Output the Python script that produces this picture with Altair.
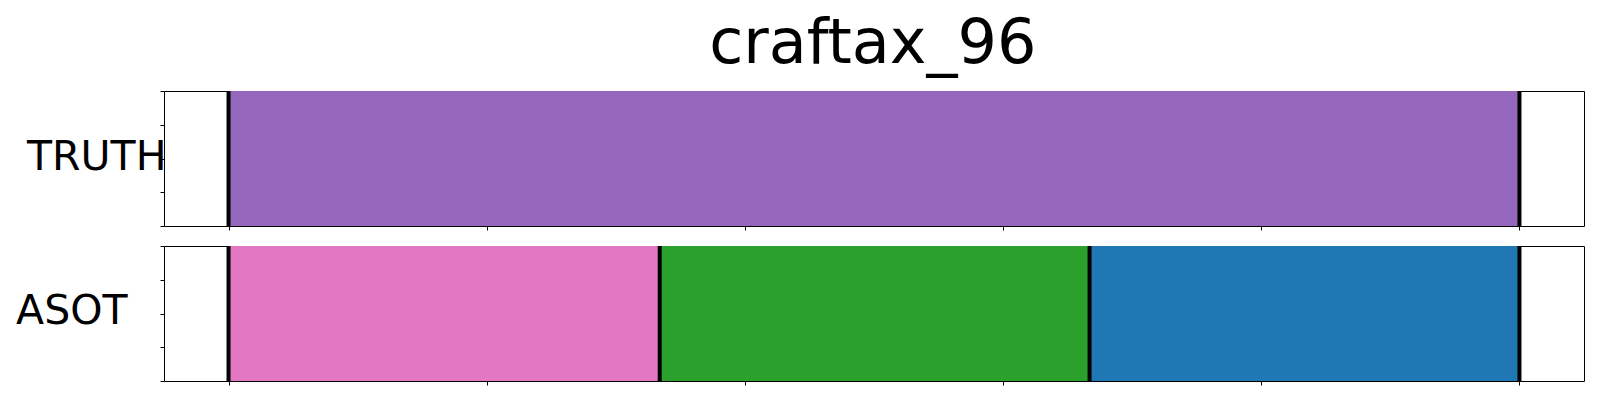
import altair as alt
import pandas as pd

title_text = "craftax_96"
row_names = ["TRUTH", "ASOT"]

truth_starts = [0]
truth_ends = [100]
truth_labels = ["t0"]

asot_starts = [0, 33.4, 66.7]
asot_ends = [33.4, 66.7, 100]
asot_labels = ["a0", "a1", "a2"]

truth_bounds = [0, 100]
asot_bounds = [0, 33.4, 66.7, 100]

color_domain = ["t0", "a0", "a1", "a2"]
color_range = ["#9467bd", "#e377c2", "#2ca02c", "#1f77b4"]

x_ticks = [0, 20, 40, 60, 80, 100]
y_ticks = [0, 0.25, 0.5, 0.75, 1]

W, H = 1420, 135


def panel(name, starts, ends, labels, bounds, title_x, title_y):
    seg = pd.DataFrame({"start": starts, "end": ends, "lab": labels,
                        "y0": [0] * len(starts), "y1": [1] * len(starts)})
    bnd = pd.DataFrame({"b": bounds})
    xs = alt.Scale(domain=[-5, 105], nice=False, zero=False)
    ys = alt.Scale(domain=[0, 1], nice=False)
    rect = alt.Chart(seg).mark_rect().encode(
        x=alt.X("start:Q", scale=xs,
                axis=alt.Axis(values=x_ticks, labels=False, title=None, domain=False,
                              ticks=True, tickSize=4, tickColor="black", grid=False)),
        x2="end:Q",
        y=alt.Y("y0:Q", scale=ys,
                axis=alt.Axis(values=y_ticks, labels=False, domain=False, ticks=True,
                              tickSize=4, tickColor="black", grid=False,
                              title=name, titleAngle=0, titleAlign="right",
                              titleBaseline="alphabetic", titleX=title_x, titleY=title_y,
                              titleFontSize=41, titleFont="DejaVu Sans",
                              titleFontWeight="normal", titleColor="black")),
        y2="y1:Q",
        color=alt.Color("lab:N", scale=alt.Scale(domain=color_domain, range=color_range),
                        legend=None),
    )
    rule = alt.Chart(bnd).mark_rule(color="black", strokeWidth=4).encode(
        x=alt.X("b:Q", scale=xs)
    )
    return alt.layer(rect, rule).properties(width=W, height=H)


p1 = panel(row_names[0], truth_starts, truth_ends, truth_labels, truth_bounds, 2, 78)
p2 = panel(row_names[1], asot_starts, asot_ends, asot_labels, asot_bounds, -37, 77)

chart = alt.vconcat(p1, p2, spacing=12).properties(
    title=alt.TitleParams(title_text, fontSize=62, font="DejaVu Sans",
                          fontWeight="normal", color="black", anchor="middle",
                          offset=13, dx=73),
    padding={"left": 7, "top": 4, "right": 5, "bottom": 5},
).configure(background="white").configure_view(stroke="black", strokeWidth=1)

chart.save("out.html", embed_options={"renderer": "svg", "actions": False})
